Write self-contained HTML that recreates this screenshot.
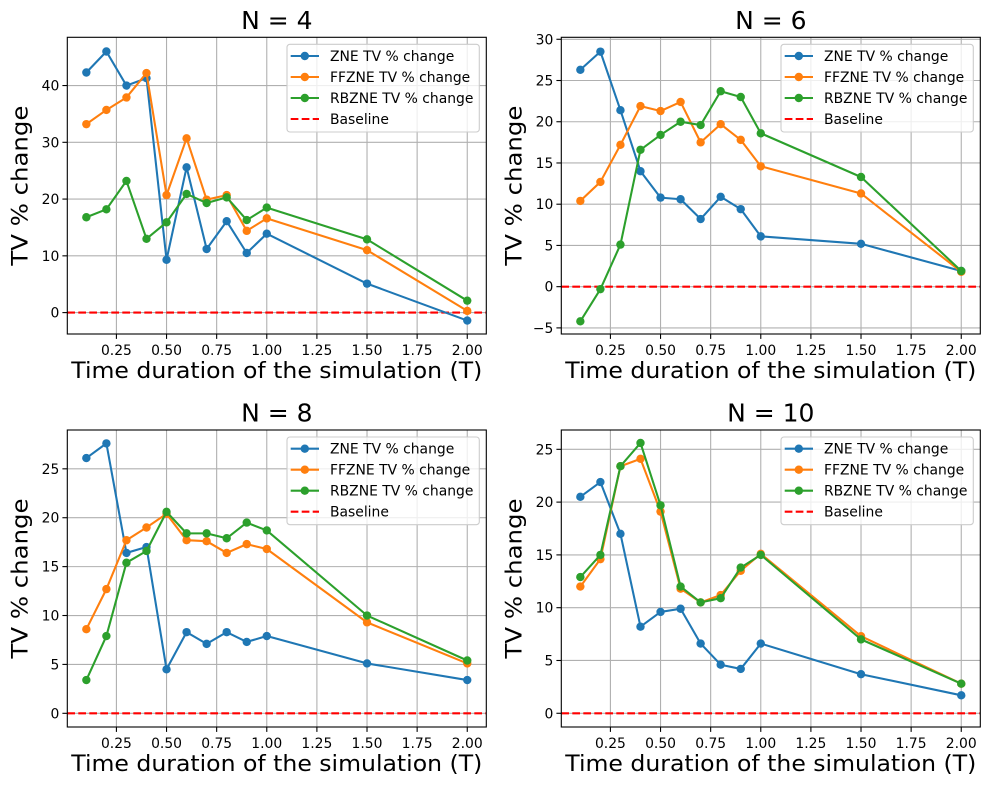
<!DOCTYPE html>
<html><head><meta charset="utf-8"><style>
html,body{margin:0;padding:0;background:#fff;}
svg{display:block;font-family:"DejaVu Sans","Liberation Sans",sans-serif;}
</style></head><body>
<svg id="fig" width="989" height="790" viewBox="0 0 989 790" xmlns="http://www.w3.org/2000/svg"></svg>
<script>
const xValues = [0.1,0.2,0.3,0.4,0.5,0.6,0.7,0.8,0.9,1.0,1.5,2.0];
const xTicks = [0.25,0.5,0.75,1.0,1.25,1.5,1.75,2.0];
const xTickLabels = ["0.25","0.50","0.75","1.00","1.25","1.50","1.75","2.00"];
const seriesNames = ["ZNE TV % change","FFZNE TV % change","RBZNE TV % change"];
const panelTitles = ["N = 4","N = 6","N = 8","N = 10"];
const zneN4 = [42.3,46.0,40.0,41.3,9.3,25.6,11.2,16.1,10.5,13.9,5.1,-1.4];
const ffN4  = [33.2,35.7,37.9,42.2,20.7,30.7,19.9,20.7,14.4,16.6,11.0,0.3];
const rbN4  = [16.8,18.2,23.2,13.0,15.9,20.9,19.3,20.3,16.3,18.5,12.9,2.1];
const zneN6 = [26.3,28.5,21.4,14.0,10.8,10.6,8.2,10.9,9.4,6.1,5.2,1.9];
const ffN6  = [10.4,12.7,17.2,21.9,21.3,22.4,17.5,19.7,17.8,14.6,11.3,1.8];
const rbN6  = [-4.2,-0.3,5.1,16.6,18.4,20.0,19.6,23.7,23.0,18.6,13.3,1.9];
const zneN8 = [26.1,27.6,16.4,17.0,4.5,8.3,7.1,8.3,7.3,7.9,5.1,3.4];
const ffN8  = [8.6,12.7,17.7,19.0,20.4,17.7,17.6,16.4,17.3,16.8,9.3,5.1];
const rbN8  = [3.4,7.9,15.4,16.6,20.6,18.4,18.4,17.9,19.5,18.7,10.0,5.4];
const zneN10 = [20.5,21.9,17.0,8.2,9.6,9.9,6.6,4.6,4.2,6.6,3.7,1.7];
const ffN10  = [12.0,14.6,23.4,24.1,19.1,11.8,10.5,11.2,13.5,15.1,7.3,2.8];
const rbN10  = [12.9,15.0,23.4,25.6,19.7,12.0,10.5,10.9,13.8,15.0,7.0,2.8];
const yTicksN4 = [0,10,20,30,40];
const yTicksN6 = [-5,0,5,10,15,20,25,30];
const yTicksN8 = [0,5,10,15,20,25];
const yTicksN10 = [0,5,10,15,20,25];
const baselineValue = 0;

const NS="http://www.w3.org/2000/svg";
const svg=document.getElementById('fig');
function mk(tag,attrs,parent){const e=document.createElementNS(NS,tag);for(const k in attrs)e.setAttribute(k,attrs[k]);(parent||svg).appendChild(e);return e;}
const colors=["#1f77b4","#ff7f0e","#2ca02c"];
const panels=[
 {series:[zneN4,ffN4,rbN4],yt:yTicksN4,x0:67.3,x1:486.3,y0:37.3,y1:334,ylim:[-3.77,48.5],key:"n4"},
 {series:[zneN6,ffN6,rbN6],yt:yTicksN6,x0:561.3,x1:980.3,y0:37.3,y1:334,ylim:[-5.74,30.24],key:"n6"},
 {series:[zneN8,ffN8,rbN8],yt:yTicksN8,x0:67.3,x1:486.3,y0:430,y1:727,ylim:[-1.4,28.97],key:"n8"},
 {series:[zneN10,ffN10,rbN10],yt:yTicksN10,x0:561.3,x1:980.3,y0:430,y1:727,ylim:[-1.3,26.83],key:"n10"}
];
panels.forEach((p,pi)=>{
  const g=mk('g',{});
  
  
  const xmin=0.005,xmax=2.095;
  const X=v=>p.x0+(v-xmin)/(xmax-xmin)*(p.x1-p.x0);
  const Y=v=>p.y1-(v-p.ylim[0])/(p.ylim[1]-p.ylim[0])*(p.y1-p.y0);
  const grid=mk('g',{stroke:"#b0b0b0","stroke-width":1.1},g);
  
  
  xTicks.forEach((t,i)=>{
    mk('line',{x1:X(t),x2:X(t),y1:p.y0,y2:p.y1},grid);
    mk('line',{x1:X(t),x2:X(t),y1:p.y1,y2:p.y1+4.9,stroke:"#000","stroke-width":1.1},g);
    const tx=mk('text',{x:X(t),y:p.y1+21,"text-anchor":"middle","font-size":"13.9px",fill:"#000"},g);
    tx.textContent=xTickLabels[i];
    
    
  });
  p.yt.forEach(t=>{
    mk('line',{x1:p.x0,x2:p.x1,y1:Y(t),y2:Y(t)},grid);
    mk('line',{x1:p.x0-4.9,x2:p.x0,y1:Y(t),y2:Y(t),stroke:"#000","stroke-width":1.1},g);
    const tx=mk('text',{x:p.x0-8,y:Y(t)+5,"text-anchor":"end","font-size":"13.9px",fill:"#000"},g);
    tx.textContent=(t<0?"\u2212"+(-t):String(t));
    
    
  });
  const bl=mk('line',{x1:p.x0,x2:p.x1,y1:Y(baselineValue),y2:Y(baselineValue),stroke:"#ff0000","stroke-width":2.08,"stroke-dasharray":"7.7,3.3"},g);
  
  
  p.series.forEach((s,si)=>{
    const sg=mk('g',{},g);
    
    
    mk('polyline',{points:s.map((v,i)=>X(xValues[i])+","+Y(v)).join(" "),fill:"none",stroke:colors[si],"stroke-width":2.08,"stroke-linejoin":"round"},sg);
    s.forEach((v,i)=>{
      const c=mk('circle',{cx:X(xValues[i]),cy:Y(v),r:4.2,fill:colors[si]},sg);
      
      
    });
  });
  const fr=mk('rect',{x:p.x0,y:p.y0,width:p.x1-p.x0,height:p.y1-p.y0,fill:"none",stroke:"#000","stroke-width":1.1},g);
  
  
  // legend
  const lx=p.x0+219.7, ly=p.y0+7;
  const lg=mk('g',{},g);
  
  
  mk('rect',{x:lx,y:ly,width:192.3,height:87.7,rx:3,fill:"#fff","fill-opacity":0.8,stroke:"#cccccc","stroke-width":1.1},lg);
  const labels=seriesNames.concat(["Baseline"]);
  labels.forEach((lab,i)=>{
    const ry=ly+11.7+i*21;
    const e=mk('g',{},lg);
    
    
    if(i<3){
      mk('line',{x1:lx+3.7,x2:lx+32,y1:ry,y2:ry,stroke:colors[i],"stroke-width":2.08},e);
      mk('circle',{cx:lx+17.8,cy:ry,r:4.2,fill:colors[i]},e);
    } else {
      mk('line',{x1:lx+3.7,x2:lx+32,y1:ry,y2:ry,stroke:"#ff0000","stroke-width":2.08,"stroke-dasharray":"7.7,3.3"},e);
    }
    const t=mk('text',{x:lx+43,y:ry+5,"font-size":"13.9px",fill:"#000"},e);
    t.textContent=lab;
  });
  const cx=(p.x0+p.x1)/2;
  const ti=mk('text',{x:cx,y:p.y0-8.5,"text-anchor":"middle","font-size":"25px",fill:"#000"},g);
  ti.textContent=panelTitles[pi];
  
  
  const xl=mk('text',{x:cx,y:p.y1+44,"text-anchor":"middle","font-size":"22.2px",fill:"#000",textLength:411,lengthAdjust:"spacingAndGlyphs"},g);
  xl.textContent="Time duration of the simulation (T)";
  
  
  const ycy=(p.y0+p.y1)/2, ycx=p.x0-40;
  const yl=mk('text',{x:ycx,y:ycy,"text-anchor":"middle","font-size":"22.2px",fill:"#000",transform:`rotate(-90 ${ycx} ${ycy})`,textLength:160,lengthAdjust:"spacingAndGlyphs"},g);
  yl.textContent="TV % change";
  
  
});
</script>
</body></html>
